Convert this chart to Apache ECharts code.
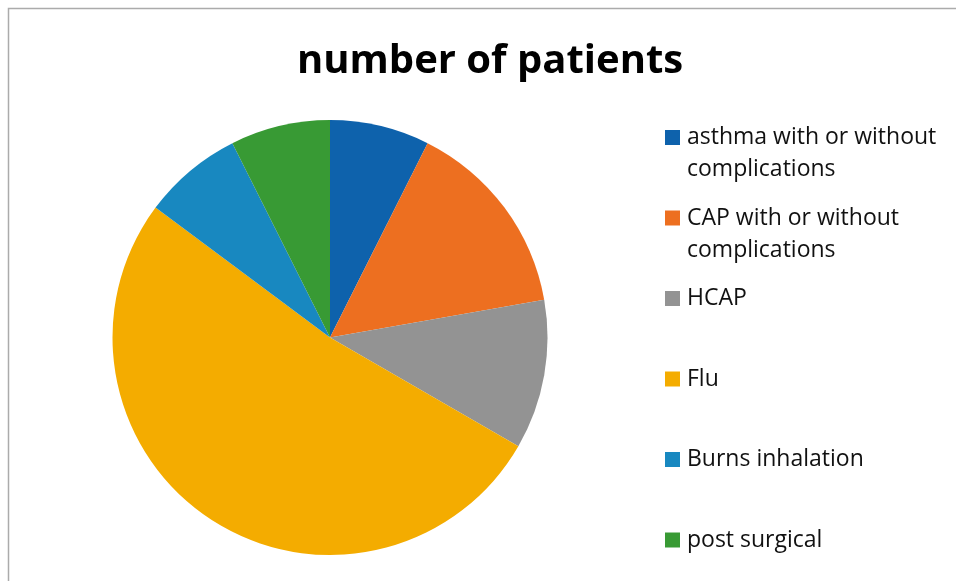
<!DOCTYPE html>
<html>
<head>
<meta charset="utf-8">
<script src="https://cdn.jsdelivr.net/npm/echarts@6/dist/echarts.min.js"></script>
<style>
html,body{margin:0;padding:0;background:#fff;}
#chart{width:956px;height:581px;}
</style>
</head>
<body>
<div id="chart"></div>
<script>
const titleText = 'number of patients';
const categories = ['asthma with or without complications', 'CAP with or without complications', 'HCAP', 'Flu', 'Burns inhalation', 'post surgical'];
const legendLabels = ['asthma with or without\ncomplications', 'CAP with or without\ncomplications', 'HCAP', 'Flu', 'Burns inhalation', 'post surgical'];
const values = [2, 4, 3, 14, 2, 2];
const colors = ['#0E62AC', '#ED6F20', '#939393', '#F4AC00', '#1888C0', '#389A34'];

const legendCenters = [137.5, 218, 298.5, 379, 459.5, 540];
const FONT = 'Open Sans';
const LH = 32;

const chart = echarts.init(document.getElementById('chart'), null, {renderer: 'canvas'});

const legends = categories.map((name, i) => {
  const twoLine = legendLabels[i].indexOf('\n') >= 0;
  return {
    data: [name],
    orient: 'vertical',
    left: 665,
    top: twoLine ? legendCenters[i] - 48 : legendCenters[i] - 16,
    padding: 0,
    itemWidth: 15,
    itemHeight: 15,
    icon: 'rect',
    selectedMode: false,
    formatter: () => (twoLine ? ' \n' : '') + legendLabels[i],
    textStyle: {
      fontFamily: FONT,
      fontSize: 23,
      color: '#111',
      lineHeight: LH,
      padding: [0, 0, 0, 2]
    }
  };
});

chart.setOption({
  animation: false,
  color: colors,
  title: {
    text: titleText,
    left: 297,
    top: 42,
    padding: 0,
    textStyle: {fontFamily: FONT, fontWeight: 'bold', fontSize: 40, color: '#000'}
  },
  graphic: [{
    type: 'rect',
    shape: {x: 8.5, y: 8.5, width: 980, height: 620},
    style: {fill: 'none', stroke: '#ABABAB', lineWidth: 1.5},
    silent: true
  }],
  legend: legends,
  series: [{
    type: 'pie',
    center: [330, 337.5],
    radius: [0, 217.5],
    startAngle: 90,
    clockwise: true,
    label: {show: false},
    labelLine: {show: false},
    itemStyle: {borderWidth: 0},
    emphasis: {disabled: true},
    data: categories.map((c, i) => ({name: c, value: values[i]}))
  }]
});
</script>
</body>
</html>
